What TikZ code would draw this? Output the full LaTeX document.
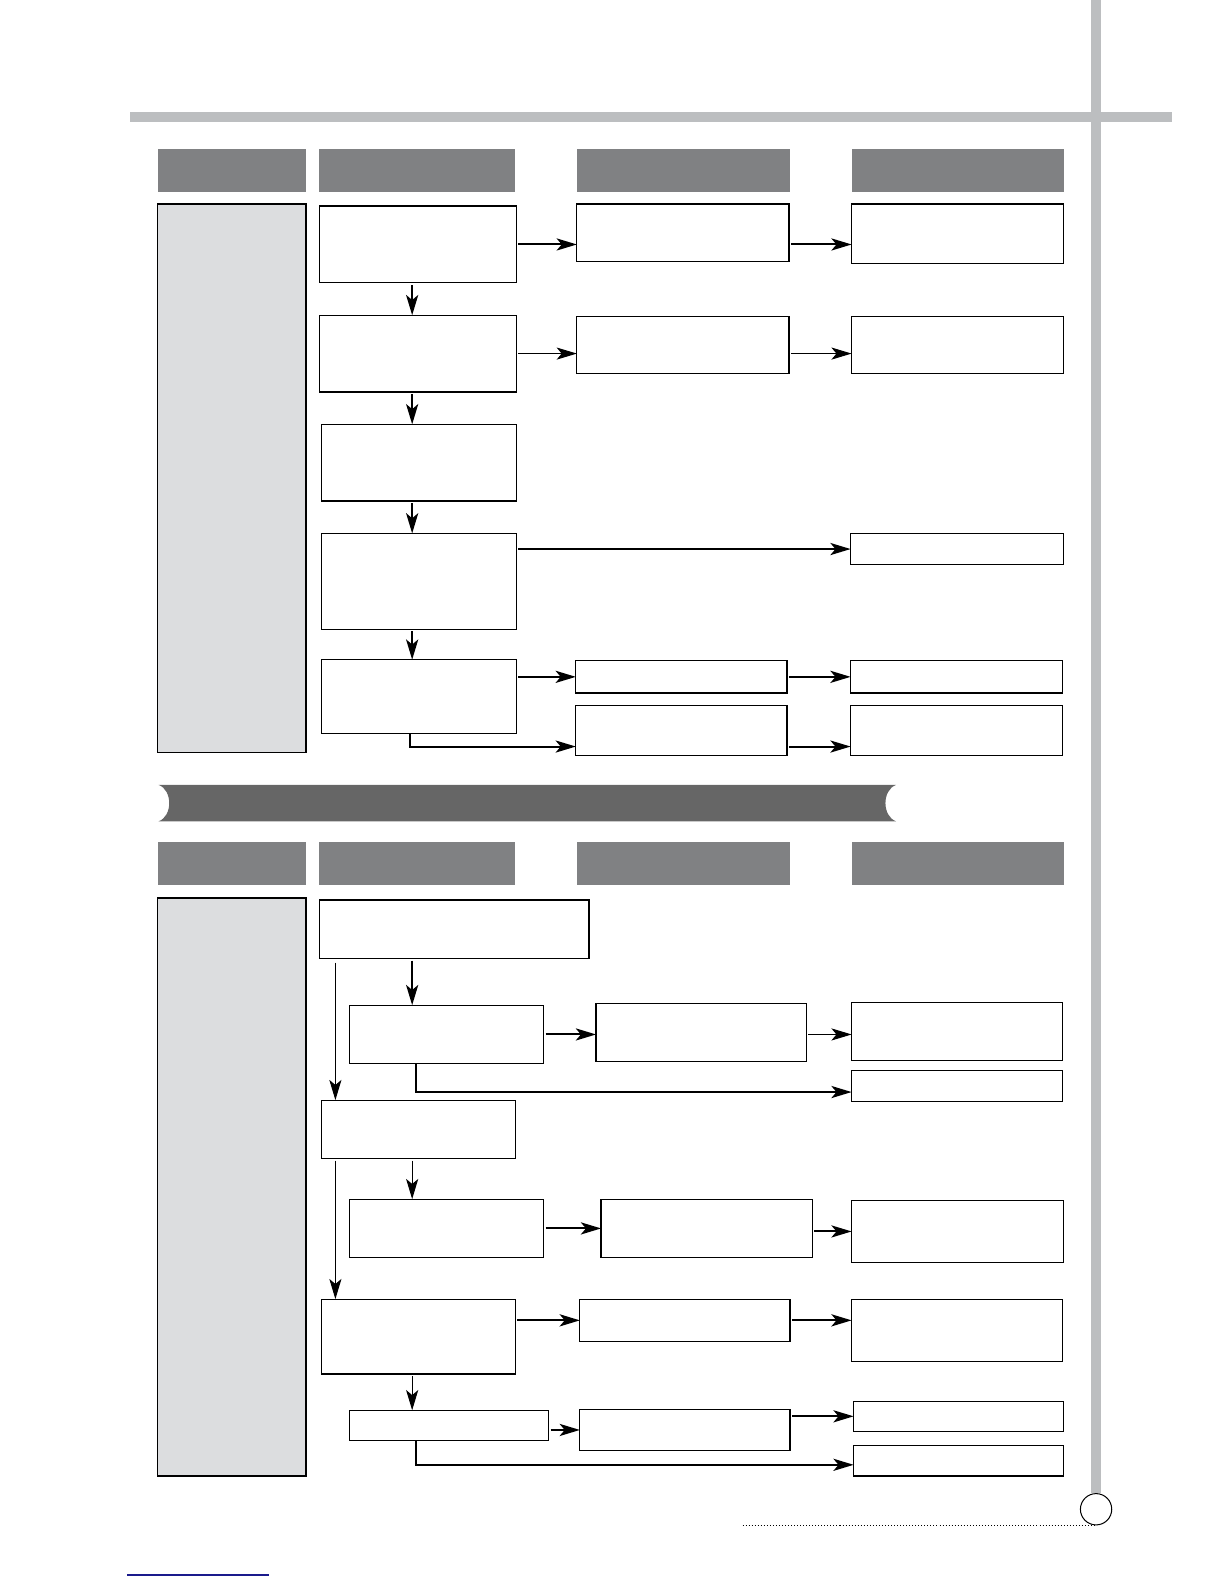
\documentclass[tikz,border=0pt]{standalone}
\usepackage{tikz}
\usetikzlibrary{arrows.meta}

\definecolor{headgray}{HTML}{808183}
\definecolor{panelgray}{HTML}{DCDDDF}
\definecolor{bargray}{HTML}{BCBEC0}
\definecolor{bandgray}{HTML}{666666}
\definecolor{linkblue}{HTML}{1A1A8C}

\begin{document}
\begin{tikzpicture}[x=0.5pt,y=-0.5pt,
    box/.style={draw,line width=0.6pt,fill=white,inner sep=0pt,outer sep=0pt},
    head/.style={fill=headgray,inner sep=0pt,outer sep=0pt,minimum height=21.5pt},
    panel/.style={draw,line width=0.6pt,fill=panelgray,inner sep=0pt,outer sep=0pt,minimum width=73.5pt},
    thk/.style={line width=1pt,-{Stealth[length=10pt,width=6pt,inset=2.5pt]},shorten <=1pt},
    thn/.style={line width=0.5pt,-{Stealth[length=10pt,width=6pt,inset=2.5pt]},shorten <=1pt}]
  \useasboundingbox (0,0) rectangle (1212,1568);

  % page frame
  \fill[bargray] (129,111) rectangle (1160,121);
  \fill[bargray] (1080,0) rectangle (1090,1478);
  \node[draw,circle,line width=0.5pt,minimum size=15.5pt,inner sep=0pt] (pg) at (1085,1494) {};
  \coordinate (dl) at (735,1510);
  \draw[line width=0.6pt,dash pattern=on 0.5pt off 1pt] (dl) -- (dl -| pg.south);
  \draw[linkblue,line width=0.8pt] (126,1559) -- (266,1559);

  % helper columns
  \coordinate (sp1) at (408,0);
  \coordinate (sp2) at (332,0);
  \coordinate (sp3) at (412,0);

  % ---------- upper table ----------
  \node[head,minimum width=73.5pt] (h_1) at (229.5,168.5) {};
  \node[head,minimum width=97pt] (h_2) at (413,168.5) {};
  \node[head,minimum width=105.5pt] (h_3) at (676.5,168.5) {};
  \node[head,minimum width=105pt] (h_4) at (948,168.5) {};
  \node[panel,minimum height=271.5pt] (p_1) at (229.5,473.5) {};

  \node[box,minimum width=97.5pt,minimum height=38pt] (a_1) at (413.5,242) {};
  \node[box,minimum width=97.5pt,minimum height=38pt] (a_2) at (413.5,350) {};
  \node[box,minimum width=96.5pt,minimum height=38pt] (a_3) at (414.5,458) {};
  \node[box,minimum width=96.5pt,minimum height=47.5pt] (a_4) at (414.5,575.5) {};
  \node[box,minimum width=96.5pt,minimum height=36.5pt] (a_5) at (414.5,689.5) {};

  \node[box,minimum width=105pt,minimum height=28.5pt] (b_1) at (676,230.5) {};
  \node[box,minimum width=105pt,minimum height=28.5pt] (b_2) at (676,341.5) {};
  \node[box,minimum width=104.5pt,minimum height=16pt] (b_5a) at (674.5,670) {};
  \node[box,minimum width=104.5pt,minimum height=25pt] (b_5b) at (674.5,723) {};

  \node[box,minimum width=105pt,minimum height=29.5pt] (c_1) at (948,231.5) {};
  \node[box,minimum width=105pt,minimum height=28.5pt] (c_2) at (948,341.5) {};
  \node[box,minimum width=105.5pt,minimum height=15.5pt] (c_4) at (947.5,543.5) {};
  \node[box,minimum width=105pt,minimum height=16pt] (c_5a) at (947,670) {};
  \node[box,minimum width=105pt,minimum height=25pt] (c_5b) at (947,723) {};
  \coordinate (r5) at (0,739);

  \draw[thk] (a_1.east) -- (a_1.east -| b_1.west);
  \draw[thk] (b_1.east |- a_1.east) -- (c_1.west |- a_1.east);
  \draw[thk] (a_1.south -| sp1) -- (a_2.north -| sp1);
  \draw[thn] (a_2.east) -- (a_2.east -| b_2.west);
  \draw[thn] (b_2.east |- a_2.east) -- (c_2.west |- a_2.east);
  \draw[thk] (a_2.south -| sp1) -- (a_3.north -| sp1);
  \draw[thk] (a_3.south -| sp1) -- (a_4.north -| sp1);
  \draw[thk] (a_4.east |- c_4.west) -- (c_4.west);
  \draw[thk] (a_4.south -| sp1) -- (a_5.north -| sp1);
  \draw[thk] (a_5.east |- b_5a.west) -- (b_5a.west);
  \draw[thk,shorten <=0pt] ([xshift=-1pt]a_5.south -| sp1) |- (b_5b.west |- r5);
  \draw[thk] (b_5a.east) -- (b_5a.east -| c_5a.west);
  \draw[thk] (b_5b.east |- r5) -- (c_5b.west |- r5);

  % ---------- band ----------
  \fill[bandgray] (157,777) -- (887,777)
    .. controls (873,782) and (873,808) .. (887,813) -- (157,813)
    .. controls (171,808) and (171,782) .. (157,777) -- cycle;

  % ---------- lower table ----------
  \node[head,minimum width=73.5pt] (h_5) at (229.5,855) {};
  \node[head,minimum width=97pt] (h_6) at (413,855) {};
  \node[head,minimum width=105.5pt] (h_7) at (676.5,855) {};
  \node[head,minimum width=105pt] (h_8) at (948,855) {};
  \node[panel,minimum height=286pt] (p_2) at (229.5,1175) {};

  \node[box,minimum width=133.5pt,minimum height=29pt] (d_1) at (449.5,920) {};
  \node[box,minimum width=96pt,minimum height=29pt] (d_2) at (442,1024) {};
  \node[box,minimum width=96pt,minimum height=29pt] (d_3) at (414,1118) {};
  \node[box,minimum width=96pt,minimum height=29pt] (d_4) at (442,1216) {};
  \node[box,minimum width=96pt,minimum height=37pt] (d_5) at (414,1323) {};
  \node[box,minimum width=98.5pt,minimum height=15pt] (d_6) at (444.5,1411) {};

  \node[box,minimum width=104pt,minimum height=29pt] (e_2) at (694,1022) {};
  \node[box,minimum width=104.5pt,minimum height=29pt] (e_4) at (699.5,1216) {};
  \node[box,minimum width=104pt,minimum height=21pt] (e_5) at (678,1307) {};
  \node[box,minimum width=104pt,minimum height=20.5pt] (e_6) at (678,1415.5) {};

  \node[box,minimum width=104.5pt,minimum height=29pt] (f_2a) at (947.5,1021) {};
  \node[box,minimum width=104.5pt,minimum height=15pt] (f_2b) at (947.5,1075) {};
  \node[box,minimum width=105pt,minimum height=31pt] (f_4) at (948,1219) {};
  \node[box,minimum width=104.5pt,minimum height=31pt] (f_5) at (947.5,1317) {};
  \node[box,minimum width=104pt,minimum height=15pt] (f_6a) at (949,1402) {};
  \node[box,minimum width=104pt,minimum height=15pt] (f_6b) at (949,1446) {};

  \draw[thk] (d_1.south -| sp1) -- (d_2.north -| sp1);
  \draw[thn,shorten <=2pt] (d_1.south -| sp2) -- (d_3.north -| sp2);
  \draw[thk] (d_2.east) -- (d_2.east -| e_2.west);
  \draw[thn] (e_2.east |- d_2.east) -- (f_2a.west |- d_2.east);
  \draw[thk,shorten <=0pt] (d_2.south -| sp3) |- ([yshift=-3pt]f_2b.west);
  \draw[thn] (d_3.south -| sp1) -- (d_4.north -| sp1);
  \draw[thn] (d_3.south -| sp2) -- (d_5.north -| sp2);
  \draw[thk] (d_4.east) -- (d_4.east -| e_4.west);
  \draw[thk] (e_4.east |- f_4.west) -- (f_4.west);
  \draw[thk] (d_5.east |- e_5.west) -- (e_5.west);
  \draw[thk] (e_5.east) -- (e_5.east -| f_5.west);
  \draw[thn] (d_5.south -| sp1) -- (d_6.north -| sp1);
  \draw[thk] (d_6.east |- e_6.west) -- (e_6.west);
  \draw[thk] (e_6.east |- f_6a.west) -- (f_6a.west);
  \draw[thk,shorten <=0pt] (d_6.south -| sp3) |- ([yshift=-2pt]f_6b.west);
\end{tikzpicture}
\end{document}
